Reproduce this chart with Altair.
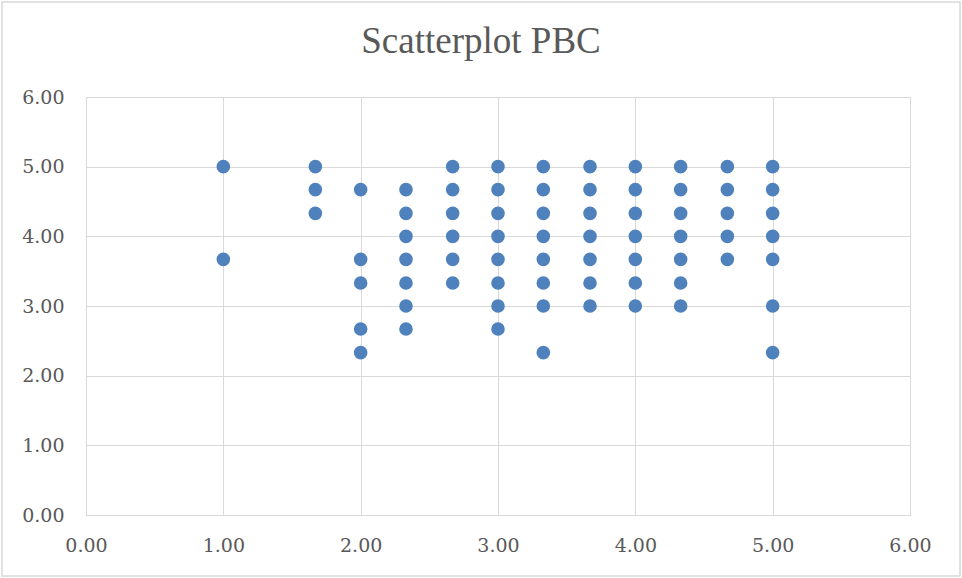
import altair as alt
import pandas as pd

# x values (one per point) and y values (one per point)
xs = (
    [1.00] * 2
    + [1.67] * 3
    + [2.00] * 5
    + [2.33] * 7
    + [2.67] * 6
    + [3.00] * 8
    + [3.33] * 8
    + [3.67] * 7
    + [4.00] * 7
    + [4.33] * 7
    + [4.67] * 5
    + [5.00] * 7
)
ys = (
    [5.00, 3.67]
    + [5.00, 4.67, 4.33]
    + [4.67, 3.67, 3.33, 2.67, 2.33]
    + [4.67, 4.33, 4.00, 3.67, 3.33, 3.00, 2.67]
    + [5.00, 4.67, 4.33, 4.00, 3.67, 3.33]
    + [5.00, 4.67, 4.33, 4.00, 3.67, 3.33, 3.00, 2.67]
    + [5.00, 4.67, 4.33, 4.00, 3.67, 3.33, 3.00, 2.33]
    + [5.00, 4.67, 4.33, 4.00, 3.67, 3.33, 3.00]
    + [5.00, 4.67, 4.33, 4.00, 3.67, 3.33, 3.00]
    + [5.00, 4.67, 4.33, 4.00, 3.67, 3.33, 3.00]
    + [5.00, 4.67, 4.33, 4.00, 3.67]
    + [5.00, 4.67, 4.33, 4.00, 3.67, 3.00, 2.33]
)
tick_values = [0, 1, 2, 3, 4, 5, 6]

df = pd.DataFrame({"x": xs, "y": ys})

GRID = "#d9d9d9"
TEXT = "#595959"

x_axis = alt.Axis(
    values=tick_values, format=".2f", title=None, tickSize=0, labelPadding=21,
    labelFont="DejaVu Serif", labelFontSize=19, labelColor=TEXT, labelFlush=False,
    grid=True, gridColor=GRID, gridWidth=1, domainColor=GRID, domainWidth=1,
)
y_axis = alt.Axis(
    values=tick_values, format=".2f", title=None, tickSize=0, labelPadding=22,
    labelFont="DejaVu Serif", labelFontSize=19, labelColor=TEXT, labelFlush=False,
    grid=True, gridColor=GRID, gridWidth=1, domainColor=GRID, domainWidth=1,
)

points = alt.Chart(df).mark_circle(size=185, color="#4f81bd", opacity=1).encode(
    x=alt.X("x:Q", scale=alt.Scale(domain=[0, 6], nice=False), axis=x_axis),
    y=alt.Y("y:Q", scale=alt.Scale(domain=[0, 6], nice=False), axis=y_axis),
)

frame = alt.Chart(pd.DataFrame({"k": [0]})).mark_rect(
    fill=None, stroke=GRID, strokeWidth=1.5
).encode(
    x=alt.value(-84), x2=alt.value(874), y=alt.value(-95), y2=alt.value(479)
)

chart = alt.layer(frame, points).properties(
    width=824,
    height=418,
    autosize=alt.AutoSizeParams(type="none"),
    padding={"left": 86, "top": 97, "right": 52, "bottom": 63},
    title=alt.TitleParams(
        text="Scatterplot PBC", font="Liberation Serif", fontSize=37,
        color=TEXT, fontWeight="normal", anchor="middle", baseline="alphabetic",
        offset=-89, dx=-17,
    ),
).configure_view(stroke=GRID)

chart.save("out.html", embed_options={"renderer": "svg", "actions": False})
